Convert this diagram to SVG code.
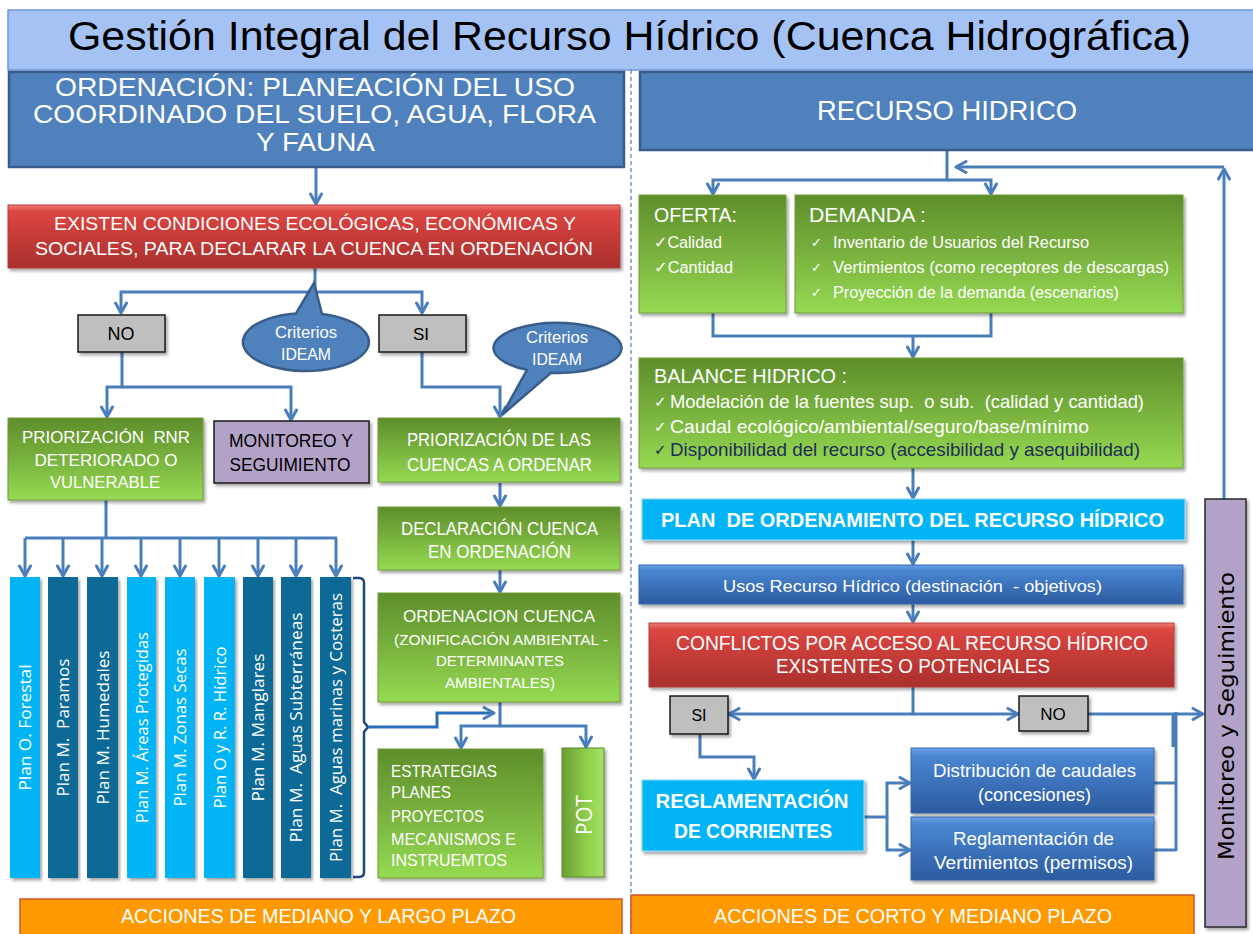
<svg xmlns="http://www.w3.org/2000/svg" width="1253" height="934" viewBox="0 0 1253 934">
<defs>
<linearGradient id="gGreen" x1="0" y1="0" x2="0" y2="1">
<stop offset="0" stop-color="#5e8e2b"/><stop offset="0.5" stop-color="#79b23e"/><stop offset="1" stop-color="#96da52"/>
</linearGradient>
<linearGradient id="gRed" x1="0" y1="0" x2="0" y2="1">
<stop offset="0" stop-color="#f07a76"/><stop offset="0.1" stop-color="#dc4642"/><stop offset="1" stop-color="#a92f2c"/>
</linearGradient>
<linearGradient id="gBlue" x1="0" y1="0" x2="0" y2="1">
<stop offset="0" stop-color="#6aa2ea"/><stop offset="0.12" stop-color="#4a86d2"/><stop offset="1" stop-color="#2c5ba0"/>
</linearGradient>
<linearGradient id="gPot" x1="0" y1="0" x2="1" y2="0">
<stop offset="0" stop-color="#6a9e33"/><stop offset="0.6" stop-color="#8fd04c"/><stop offset="1" stop-color="#a8e066"/>
</linearGradient>
<filter id="sh" x="-5%" y="-5%" width="115%" height="120%">
<feDropShadow dx="2" dy="2.5" stdDeviation="1.5" flood-color="#000" flood-opacity="0.35"/>
</filter>
<marker id="ar" viewBox="0 0 14 14" refX="12" refY="7" markerWidth="14" markerHeight="14" markerUnits="userSpaceOnUse" orient="auto">
<path d="M2,1.5 L12,7 L2,12.5" fill="none" stroke="#4a7ebb" stroke-width="3" stroke-linecap="round" stroke-linejoin="round"/>
</marker>
<style>
text{font-family:"Liberation Sans",Arial,sans-serif;}
.w{fill:#fff}
.k{fill:#000}
.c{text-anchor:middle}
.green{fill:url(#gGreen);stroke:#6e9c3a;stroke-width:1;filter:url(#sh)}
.red{fill:url(#gRed);stroke:#b43c39;stroke-width:1;filter:url(#sh)}
.blue{fill:url(#gBlue);stroke:#3a68a8;stroke-width:1;filter:url(#sh)}
.plain{fill:#4f81bd;stroke:#385d8a;stroke-width:2.5}
.cyan{fill:#00b4f5;stroke:#8ad8fa;stroke-width:1.2;filter:url(#sh)}
.gray{fill:#bfbfbf;stroke:#1a1a1a;stroke-width:1.5;filter:url(#sh)}
.purple{fill:#b3a2c7;stroke:#1a1a1a;stroke-width:1.5;filter:url(#sh)}
.orange{fill:#ff9900;stroke:#cc5a2a;stroke-width:1.5}
.lc{fill:#00b4f5}
.dc{fill:#0a6995}
.conn{fill:none;stroke:#4a7ebb;stroke-width:3}
.arr{marker-end:url(#ar)}
.ck{font-family:"DejaVu Sans",sans-serif}
.col{font-family:"Open Sans","DejaVu Sans",sans-serif;font-size:17px;fill:#fff;text-anchor:middle}
</style>
</defs>
<rect width="1253" height="934" fill="#fff"/>

<g id="title">
<rect x="8" y="10" width="1255" height="60" fill="#a4c2f4" stroke="#6f98d8" stroke-width="1.5"/>
<text class="k c" x="629.5" y="50" font-size="40" textLength="1123" lengthAdjust="spacingAndGlyphs">Gestión Integral del Recurso Hídrico (Cuenca Hidrográfica)</text>
</g>

<g id="connectors">
<path d="M631,70 V934" fill="none" stroke="#4a7ebb" stroke-width="1.2" stroke-dasharray="4,3"/>
<path class="conn arr" d="M316,167 V204"/>
<path class="conn arr" d="M315,267 V292 H121 V313"/>
<path class="conn arr" d="M315,292 H422 V313"/>
<path class="conn arr" d="M122,352 V387 H107 V417"/>
<path class="conn arr" d="M122,387 H291 V420"/>
<path class="conn arr" d="M422,352 V387 H500 V417"/>
<path class="conn arr" d="M500,483 V506"/>
<path class="conn arr" d="M500,570 V592"/>
<path class="conn arr" d="M500,702 V726 H461 V748"/>
<path class="conn arr" d="M500,726 H586 V747"/>
<path d="M353,578 H359 Q364,578 364,583 V722 L368,727 L364,732 V872 Q364,877 359,877 H353" fill="none" stroke="#1f497d" stroke-width="2.5"/>
<path class="arr" d="M368,727 H437 V713 H494" fill="none" stroke="#2a6ebb" stroke-width="3"/>
<path class="conn" d="M106,500 V538 M25,538 H337"/>
<path class="conn arr" d="M25,538 V576"/>
<path class="conn arr" d="M63,538 V576"/>
<path class="conn arr" d="M102,538 V576"/>
<path class="conn arr" d="M141,538 V576"/>
<path class="conn arr" d="M180,538 V576"/>
<path class="conn arr" d="M219,538 V576"/>
<path class="conn arr" d="M258,538 V576"/>
<path class="conn arr" d="M296,538 V576"/>
<path class="conn arr" d="M336,538 V576"/>
<path class="conn arr" d="M947,150 V180 H713 V194"/>
<path class="conn arr" d="M947,180 H991 V194"/>
<path class="conn arr" d="M1224,167 H956"/>
<path class="conn arr" d="M1224,499 V169"/>
<path class="conn" d="M713,313 V336 H991 V313"/>
<path class="conn arr" d="M913,336 V357"/>
<path class="conn arr" d="M913,468 V498"/>
<path class="conn arr" d="M913,540 V564"/>
<path class="conn arr" d="M913,604 V622"/>
<path class="conn arr" d="M913,687 V714 H729"/>
<path class="conn arr" d="M913,714 H1018"/>
<path class="conn arr" d="M1088,714 H1203"/>
<path class="conn" d="M1176,712 V851 M1173,714 V747 M1154,783 H1176 M1154,850 H1176"/>
<path class="conn arr" d="M700,734 V757 H754 V779"/>
<path class="conn arr" d="M864,817 H887 V783 H910"/>
<path class="conn arr" d="M887,817 V850 H910"/>
</g>

<g id="ordenacion">
<rect class="plain" x="9" y="72" width="615" height="95"/>
<text class="w c" font-size="26" x="315" y="96" textLength="520" lengthAdjust="spacingAndGlyphs">ORDENACIÓN: PLANEACIÓN DEL USO</text>
<text class="w c" font-size="26" x="314.5" y="123" textLength="563" lengthAdjust="spacingAndGlyphs">COORDINADO DEL SUELO,  AGUA, FLORA</text>
<text class="w c" font-size="26" x="315.5" y="151" textLength="119" lengthAdjust="spacingAndGlyphs">Y FAUNA</text>
</g>

<g id="recurso-hidrico">
<rect class="plain" x="640" y="72" width="625" height="78"/>
<text class="w c" font-size="28" x="947" y="120" textLength="260" lengthAdjust="spacingAndGlyphs">RECURSO HIDRICO</text>
</g>

<g id="existen-condiciones">
<rect class="red" x="8" y="205" width="612" height="63"/>
<text class="w c" font-size="19" x="315" y="230" textLength="522" lengthAdjust="spacingAndGlyphs">EXISTEN CONDICIONES ECOLÓGICAS, ECONÓMICAS Y</text>
<text class="w c" font-size="19" x="314" y="255" textLength="558" lengthAdjust="spacingAndGlyphs">SOCIALES, PARA DECLARAR LA CUENCA EN ORDENACIÓN</text>
</g>

<g id="criterios-1">
<path d="M296,313.4 L314,283 L322,314 A63,29 0 1,1 296,313.4 Z" fill="#4f81bd" stroke="#385d8a" stroke-width="2.5"/>
<text class="w c" font-size="16" x="306" y="338" textLength="62" lengthAdjust="spacingAndGlyphs">Criterios</text>
<text class="w c" font-size="16" x="306" y="360" textLength="50" lengthAdjust="spacingAndGlyphs">IDEAM</text>
</g>

<g id="criterios-2">
<path d="M527,369.9 L502,415 L551,372.8 A64,25 0 1,0 527,369.9 Z" fill="#4f81bd" stroke="#385d8a" stroke-width="2.5"/>
<text class="w c" font-size="16" x="557" y="343" textLength="62" lengthAdjust="spacingAndGlyphs">Criterios</text>
<text class="w c" font-size="16" x="557" y="365" textLength="50" lengthAdjust="spacingAndGlyphs">IDEAM</text>
</g>

<g id="no-left">
<rect class="gray" x="78" y="315" width="87" height="37"/>
<text class="k c" font-size="18" x="121" y="340">NO</text>
</g>

<g id="si-left">
<rect class="gray" x="379" y="315" width="87" height="37"/>
<text class="k c" font-size="17" x="421" y="340">SI</text>
</g>

<g id="priorizacion-rnr">
<rect class="green" x="8" y="418" width="195" height="82"/>
<text class="w c" font-size="17" x="106" y="443" textLength="168" lengthAdjust="spacingAndGlyphs" xml:space="preserve">PRIORIZACIÓN  RNR</text>
<text class="w c" font-size="17" x="106" y="466" textLength="143" lengthAdjust="spacingAndGlyphs">DETERIORADO O</text>
<text class="w c" font-size="17" x="105" y="488" textLength="110" lengthAdjust="spacingAndGlyphs">VULNERABLE</text>
</g>

<g id="monitoreo-left">
<rect class="purple" x="214" y="421" width="155" height="62"/>
<text class="k c" font-size="19" x="291" y="447" textLength="124" lengthAdjust="spacingAndGlyphs">MONITOREO Y</text>
<text class="k c" font-size="19" x="290" y="471" textLength="121" lengthAdjust="spacingAndGlyphs">SEGUIMIENTO</text>
</g>

<g id="priorizacion-cuencas">
<rect class="green" x="378" y="418" width="242" height="64"/>
<text class="w c" font-size="18" x="499" y="446" textLength="184" lengthAdjust="spacingAndGlyphs">PRIORIZACIÓN DE LAS</text>
<text class="w c" font-size="18" x="499.5" y="471" textLength="185" lengthAdjust="spacingAndGlyphs">CUENCAS A ORDENAR</text>
</g>

<g id="declaracion">
<rect class="green" x="378" y="507" width="242" height="63"/>
<text class="w c" font-size="18" x="499.5" y="535" textLength="197" lengthAdjust="spacingAndGlyphs">DECLARACIÓN CUENCA</text>
<text class="w c" font-size="18" x="499.5" y="558" textLength="143" lengthAdjust="spacingAndGlyphs">EN ORDENACIÓN</text>
</g>

<g id="ordenacion-cuenca">
<rect class="green" x="378" y="593" width="242" height="109"/>
<text class="w c" font-size="17" x="499" y="622" textLength="192" lengthAdjust="spacingAndGlyphs">ORDENACION CUENCA</text>
<text class="w c" font-size="15.5" x="501" y="645" textLength="214" lengthAdjust="spacingAndGlyphs">(ZONIFICACIÓN AMBIENTAL -</text>
<text class="w c" font-size="15.5" x="500" y="666" textLength="128" lengthAdjust="spacingAndGlyphs">DETERMINANTES</text>
<text class="w c" font-size="15.5" x="500" y="688" textLength="110" lengthAdjust="spacingAndGlyphs">AMBIENTALES)</text>
</g>

<g id="estrategias">
<rect class="green" x="378" y="749" width="165" height="129"/>
<text class="w" font-size="17" x="391" y="777" textLength="106" lengthAdjust="spacingAndGlyphs">ESTRATEGIAS</text>
<text class="w" font-size="17" x="391" y="798" textLength="60" lengthAdjust="spacingAndGlyphs">PLANES</text>
<text class="w" font-size="17" x="391" y="822" textLength="93" lengthAdjust="spacingAndGlyphs">PROYECTOS</text>
<text class="w" font-size="17" x="391" y="845" textLength="125" lengthAdjust="spacingAndGlyphs">MECANISMOS E</text>
<text class="w" font-size="17" x="391" y="866" textLength="116" lengthAdjust="spacingAndGlyphs">INSTRUEMTOS</text>
</g>

<g id="pot">
<rect x="562" y="748" width="42" height="129" fill="url(#gPot)" stroke="#5d8a2a" stroke-width="1" filter="url(#sh)"/>
<text class="w c" font-size="22" transform="translate(592,815) rotate(-90)" style="font-family:'Open Sans',sans-serif" textLength="40" lengthAdjust="spacingAndGlyphs">POT</text>
</g>

<g id="planes">
<rect class="lc" x="10" y="577" width="30" height="301" filter="url(#sh)"/>
<rect class="dc" x="48" y="577" width="30" height="301" filter="url(#sh)"/>
<rect class="dc" x="87" y="577" width="31" height="301" filter="url(#sh)"/>
<rect class="lc" x="127" y="577" width="29" height="301" filter="url(#sh)"/>
<rect class="lc" x="165" y="577" width="30" height="301" filter="url(#sh)"/>
<rect class="lc" x="204" y="577" width="31" height="301" filter="url(#sh)"/>
<rect class="dc" x="243" y="577" width="30" height="301" filter="url(#sh)"/>
<rect class="dc" x="281" y="577" width="30" height="301" filter="url(#sh)"/>
<rect class="dc" x="320" y="577" width="31" height="301" filter="url(#sh)"/>
<text class="col" transform="translate(31,727.5) rotate(-90)" textLength="126" lengthAdjust="spacingAndGlyphs">Plan O. Forestal</text>
<text class="col" transform="translate(69,727.5) rotate(-90)" textLength="138" lengthAdjust="spacingAndGlyphs" xml:space="preserve">Plan M.  Paramos</text>
<text class="col" transform="translate(108.5,727.5) rotate(-90)" textLength="154" lengthAdjust="spacingAndGlyphs">Plan M. Humedales</text>
<text class="col" transform="translate(147.5,727.5) rotate(-90)" textLength="191" lengthAdjust="spacingAndGlyphs">Plan M. Áreas Protegidas</text>
<text class="col" transform="translate(186,727.5) rotate(-90)" textLength="158" lengthAdjust="spacingAndGlyphs">Plan M. Zonas Secas</text>
<text class="col" transform="translate(225.5,727.5) rotate(-90)" textLength="162" lengthAdjust="spacingAndGlyphs">Plan O y R. R. Hídrico</text>
<text class="col" transform="translate(264,727.5) rotate(-90)" textLength="148" lengthAdjust="spacingAndGlyphs">Plan M. Manglares</text>
<text class="col" transform="translate(302,727.5) rotate(-90)" textLength="230" lengthAdjust="spacingAndGlyphs" xml:space="preserve">Plan M.  Aguas Subterráneas</text>
<text class="col" transform="translate(341.5,727.5) rotate(-90)" textLength="269" lengthAdjust="spacingAndGlyphs" xml:space="preserve">Plan M.  Aguas marinas y Costeras</text>
</g>

<g id="acciones-largo">
<rect class="orange" x="20" y="899" width="602" height="45"/>
<text class="w c" font-size="21" x="318.5" y="923" textLength="395" lengthAdjust="spacingAndGlyphs">ACCIONES DE MEDIANO Y LARGO PLAZO</text>
</g>

<g id="oferta">
<rect class="green" x="639" y="195" width="147" height="118"/>
<text class="w" font-size="21" x="654" y="222" textLength="83" lengthAdjust="spacingAndGlyphs">OFERTA:</text>
<text class="w" font-size="16" x="654" y="248" textLength="68" lengthAdjust="spacingAndGlyphs"><tspan class="ck">✓</tspan>Calidad</text>
<text class="w" font-size="16" x="654" y="273" textLength="79" lengthAdjust="spacingAndGlyphs"><tspan class="ck">✓</tspan>Cantidad</text>
</g>

<g id="demanda">
<rect class="green" x="795" y="195" width="388" height="118"/>
<text class="w" font-size="21" x="809" y="222" textLength="117" lengthAdjust="spacingAndGlyphs">DEMANDA :</text>
<text class="w ck" font-size="13" x="811" y="247">✓</text>
<text class="w ck" font-size="13" x="811" y="272">✓</text>
<text class="w ck" font-size="13" x="811" y="297">✓</text>
<text class="w" font-size="16" x="833" y="248" textLength="256" lengthAdjust="spacingAndGlyphs">Inventario de Usuarios del Recurso</text>
<text class="w" font-size="16" x="833" y="273" textLength="336" lengthAdjust="spacingAndGlyphs">Vertimientos (como receptores de descargas)</text>
<text class="w" font-size="16" x="833" y="298" textLength="286" lengthAdjust="spacingAndGlyphs">Proyección de la demanda (escenarios)</text>
</g>

<g id="balance-hidrico">
<rect class="green" x="639" y="358" width="544" height="110"/>
<text class="w" font-size="21" x="654" y="383" textLength="193" lengthAdjust="spacingAndGlyphs">BALANCE HIDRICO :</text>
<text class="w ck" font-size="15" x="654" y="407">✓</text>
<text class="w ck" font-size="15" x="654" y="432">✓</text>
<text class="ck" font-size="15" x="654" y="455" fill="#1f2d5a">✓</text>
<text class="w" font-size="18.5" x="670" y="408" textLength="474" lengthAdjust="spacingAndGlyphs" xml:space="preserve">Modelación de la fuentes sup.  o sub.  (calidad y cantidad)</text>
<text class="w" font-size="18.5" x="670" y="433" textLength="419" lengthAdjust="spacingAndGlyphs">Caudal ecológico/ambiental/seguro/base/mínimo</text>
<text font-size="18.5" x="670" y="456" fill="#1f2d5a" textLength="470" lengthAdjust="spacingAndGlyphs">Disponibilidad del recurso (accesibilidad y asequibilidad)</text>
</g>

<g id="plan-ordenamiento">
<rect class="cyan" x="642" y="499" width="543" height="41"/>
<text class="w c" font-size="20" font-weight="bold" x="912.5" y="527" textLength="503" lengthAdjust="spacingAndGlyphs" xml:space="preserve">PLAN  DE ORDENAMIENTO DEL RECURSO HÍDRICO</text>
</g>

<g id="usos">
<rect class="blue" x="639" y="565" width="544" height="39"/>
<text class="w c" font-size="17" x="912.5" y="592" textLength="379" lengthAdjust="spacingAndGlyphs" xml:space="preserve">Usos Recurso Hídrico (destinación  - objetivos)</text>
</g>

<g id="conflictos">
<rect class="red" x="649" y="623" width="525" height="64"/>
<text class="w c" font-size="21" x="912" y="650" textLength="472" lengthAdjust="spacingAndGlyphs">CONFLICTOS POR ACCESO AL RECURSO HÍDRICO</text>
<text class="w c" font-size="21" x="913" y="673" textLength="274" lengthAdjust="spacingAndGlyphs">EXISTENTES O POTENCIALES</text>
</g>

<g id="si-right">
<rect class="gray" x="670" y="696" width="58" height="38"/>
<text class="k c" font-size="16" x="699" y="721">SI</text>
</g>

<g id="no-right">
<rect class="gray" x="1019" y="696" width="69" height="35"/>
<text class="k c" font-size="17" x="1053" y="720">NO</text>
</g>

<g id="reglamentacion-corrientes">
<rect class="cyan" x="642" y="780" width="222" height="71"/>
<text class="w c" font-size="21" font-weight="bold" x="752" y="808" textLength="193" lengthAdjust="spacingAndGlyphs">REGLAMENTACIÓN</text>
<text class="w c" font-size="21" font-weight="bold" x="753" y="838" textLength="158" lengthAdjust="spacingAndGlyphs">DE CORRIENTES</text>
</g>

<g id="distribucion">
<rect class="blue" x="911" y="748" width="243" height="65"/>
<text class="w c" font-size="18" x="1034.5" y="777" textLength="203" lengthAdjust="spacingAndGlyphs">Distribución de caudales</text>
<text class="w c" font-size="18" x="1034.5" y="801" textLength="113" lengthAdjust="spacingAndGlyphs">(concesiones)</text>
</g>

<g id="reglamentacion-vertimientos">
<rect class="blue" x="911" y="817" width="243" height="63"/>
<text class="w c" font-size="18" x="1033.5" y="845" textLength="161" lengthAdjust="spacingAndGlyphs">Reglamentación de</text>
<text class="w c" font-size="18" x="1033.5" y="869" textLength="199" lengthAdjust="spacingAndGlyphs">Vertimientos (permisos)</text>
</g>

<g id="acciones-corto">
<rect class="orange" x="631" y="895" width="563" height="49"/>
<text class="w c" font-size="21" x="913" y="923" textLength="398" lengthAdjust="spacingAndGlyphs">ACCIONES DE CORTO Y MEDIANO PLAZO</text>
</g>

<g id="monitoreo-seguimiento">
<rect x="1205" y="499" width="41" height="428" fill="#b3a2c7" stroke="#2a2a2a" stroke-width="1.5" filter="url(#sh)"/>
<text class="k c" font-size="22" transform="translate(1234,716) rotate(-90)" style="font-family:'DejaVu Sans',sans-serif" textLength="288" lengthAdjust="spacingAndGlyphs">Monitoreo y Seguimiento</text>
</g>
</svg>
